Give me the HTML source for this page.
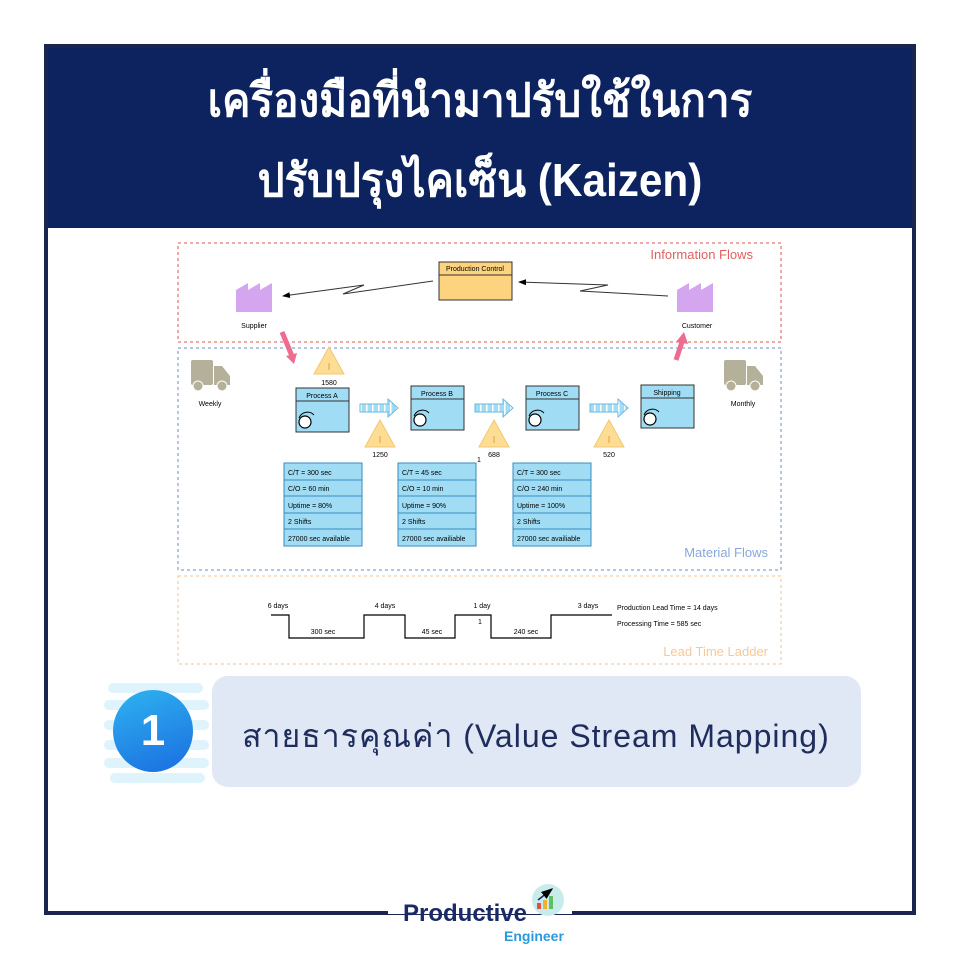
<!DOCTYPE html>
<html><head><meta charset="utf-8"><style>
body{margin:0;width:960px;height:960px;background:#fff;position:relative;overflow:hidden;font-family:"Liberation Sans",sans-serif}
.frame{position:absolute;left:44px;top:44px;width:864px;height:863px;border:4px solid #1a2550}
.hdr{position:absolute;left:48px;top:48px;width:864px;height:180px;background:#0d2360;color:#fff;text-align:center;font-weight:bold;font-size:46px;line-height:80px;padding-top:12px;box-sizing:border-box}
.hdr div{transform:scaleX(0.92)}
.pill{position:absolute;left:212px;top:676px;width:649px;height:111px;background:#dfe8f4;border-radius:16px}
.pill span{position:absolute;left:30px;top:35px;font-size:32px;letter-spacing:1px;color:#1f2d5c;white-space:nowrap}
.num{position:absolute;left:113px;top:690px;width:80px;height:82px;border-radius:50%;background:linear-gradient(160deg,#2fb3f0,#1a6de0);color:#fff;font-weight:bold;font-size:44px;text-align:center;line-height:82px}
.str{position:absolute;height:10px;border-radius:5px;background:#dff3fc}
</style></head><body>
<div class="frame"></div>
<div class="hdr"><div>เครื่องมือที่นำมาปรับใช้ในการ<br>ปรับปรุงไคเซ็น (Kaizen)</div></div>
<svg width="960" height="960" style="position:absolute;left:0;top:0" font-family="Liberation Sans, sans-serif">
<defs><marker id="ah" markerWidth="8" markerHeight="8" refX="7" refY="4" orient="auto"><path d="M0,1 L8,4 L0,7z" fill="#000"/></marker>
<pattern id="stp" width="6" height="10" patternUnits="userSpaceOnUse"><rect width="6" height="10" fill="#a0dcf4"/><rect width="1.5" height="10" fill="#fff"/></pattern></defs>
<rect x="178" y="243" width="603" height="99" fill="none" stroke="#e05050" stroke-dasharray="3,3"/>
<text x="753" y="259" text-anchor="end" font-size="13" fill="#e06060">Information Flows</text>
<rect x="178" y="348" width="603" height="222" fill="none" stroke="#6a8ed0" stroke-dasharray="3,3"/>
<text x="768" y="557" text-anchor="end" font-size="13" fill="#8aa8dc">Material Flows</text>
<rect x="178" y="576" width="603" height="88" fill="none" stroke="#f5c090" stroke-dasharray="3,3"/>
<text x="768" y="656" text-anchor="end" font-size="13" fill="#f8c898">Lead Time Ladder</text>
<rect x="439" y="262" width="73" height="38" fill="#fdd37f" stroke="#333"/><line x1="439" y1="275" x2="512" y2="275" stroke="#333"/>
<text x="475" y="271" text-anchor="middle" font-size="7">Production Control</text>
<path d="M236,312V290l12,-7v7l12,-7v7l12,-7v29z" fill="#d5a6f0"/>
<path d="M677,312V290l12,-7v7l12,-7v7l12,-7v29z" fill="#d5a6f0"/>
<text x="254" y="328" text-anchor="middle" font-size="7">Supplier</text>
<text x="697" y="328" text-anchor="middle" font-size="7">Customer</text>
<polyline points="433,281 343,294 364,285 283,296" fill="none" stroke="#333" marker-end="url(#ah)"/>
<polyline points="668,296 580,291 608,285 519,282" fill="none" stroke="#333" marker-end="url(#ah)"/>
<line x1="282" y1="332" x2="292" y2="356" stroke="#ef6b90" stroke-width="5"/><path d="M286,356 L297,353 L294,364z" fill="#ef6b90"/>
<line x1="676" y1="360" x2="682" y2="342" stroke="#ef6b90" stroke-width="5"/><path d="M676,342 L688,344 L684,332z" fill="#ef6b90"/>
<g fill="#b5b09a"><rect x="191" y="360" width="22" height="25" rx="2"/><path d="M214,366h8l8,10v9h-16z"/><circle cx="198" cy="386" r="5" stroke="#fff"/><circle cx="222" cy="386" r="5" stroke="#fff"/></g>
<g fill="#b5b09a"><rect x="724" y="360" width="22" height="25" rx="2"/><path d="M747,366h8l8,10v9h-16z"/><circle cx="731" cy="386" r="5" stroke="#fff"/><circle cx="755" cy="386" r="5" stroke="#fff"/></g>
<text x="210" y="406" text-anchor="middle" font-size="7">Weekly</text>
<text x="743" y="406" text-anchor="middle" font-size="7">Monthly</text>
<g stroke="#333" fill="#a0dcf4">
<rect x="296" y="388" width="53" height="44"/><line x1="296" y1="401" x2="349" y2="401"/>
<rect x="411" y="386" width="53" height="44"/><line x1="411" y1="399" x2="464" y2="399"/>
<rect x="526" y="386" width="53" height="44"/><line x1="526" y1="399" x2="579" y2="399"/>
<rect x="641" y="385" width="53" height="43"/><line x1="641" y1="398" x2="694" y2="398"/>
</g>
<g fill="#fff" stroke="#000" stroke-width="1.2">
<circle cx="305" cy="422" r="6"/><circle cx="420" cy="420" r="6"/><circle cx="535" cy="420" r="6"/><circle cx="650" cy="419" r="6"/></g>
<g fill="none" stroke="#000"><path d="M299,418 a9,9 0 0 1 15,-3"/><path d="M414,416 a9,9 0 0 1 15,-3"/><path d="M529,416 a9,9 0 0 1 15,-3"/><path d="M644,415 a9,9 0 0 1 15,-3"/></g>
<g font-size="7" text-anchor="middle"><text x="322" y="398">Process A</text><text x="437" y="396">Process B</text><text x="552" y="396">Process C</text><text x="667" y="395">Shipping</text></g>
<g fill="url(#stp)" stroke="#6ab8e0">
<path d="M360,404h28v-5l10,9-10,9v-5h-28z"/><path d="M475,404h28v-5l10,9-10,9v-5h-28z"/><path d="M590,404h28v-5l10,9-10,9v-5h-28z"/></g>
<g fill="#fddc94" stroke="#f0c870">
<path d="M329,347 l15,27h-30z"/><path d="M380,420 l15,27h-30z"/><path d="M494,420 l15,27h-30z"/><path d="M609,420 l15,27h-30z"/></g>
<g font-size="10" text-anchor="middle" fill="#d8a040"><text x="329" y="370">I</text><text x="380" y="443">I</text><text x="494" y="443">I</text><text x="609" y="443">I</text></g>
<g font-size="7" text-anchor="middle"><text x="329" y="385">1580</text><text x="380" y="457">1250</text><text x="494" y="457">688</text><text x="609" y="457">520</text><text x="479" y="462">1</text></g>
<g stroke="#3a8cc0" fill="#a0dcf4">
<rect x="284" y="463" width="78" height="83"/><rect x="398" y="463" width="78" height="83"/><rect x="513" y="463" width="78" height="83"/>
<path d="M284,480h78M284,496h78M284,513h78M284,529h78M398,480h78M398,496h78M398,513h78M398,529h78M513,480h78M513,496h78M513,513h78M513,529h78"/></g>
<g font-size="7">
<text x="288" y="475">C/T = 300 sec</text><text x="288" y="491">C/O = 60 min</text><text x="288" y="508">Uptime = 80%</text><text x="288" y="524">2 Shifts</text><text x="288" y="541">27000 sec available</text>
<text x="402" y="475">C/T = 45 sec</text><text x="402" y="491">C/O = 10 min</text><text x="402" y="508">Uptime = 90%</text><text x="402" y="524">2 Shifts</text><text x="402" y="541">27000 sec availiable</text>
<text x="517" y="475">C/T = 300 sec</text><text x="517" y="491">C/O = 240 min</text><text x="517" y="508">Uptime = 100%</text><text x="517" y="524">2 Shifts</text><text x="517" y="541">27000 sec availiable</text>
</g>
<polyline points="271,615 289,615 289,638 364,638 364,615 405,615 405,638 455,638 455,615 491,615 491,638 551,638 551,615 612,615" fill="none" stroke="#000" stroke-width="1.2"/>
<g font-size="7" text-anchor="middle"><text x="278" y="608">6 days</text><text x="385" y="608">4 days</text><text x="482" y="608">1 day</text><text x="588" y="608">3 days</text><text x="323" y="634">300 sec</text><text x="432" y="634">45 sec</text><text x="526" y="634">240 sec</text><text x="480" y="624">1</text></g>
<g font-size="7"><text x="617" y="610">Production Lead Time = 14 days</text><text x="617" y="626">Processing Time = 585 sec</text></g>
<rect x="388" y="900" width="184" height="14" fill="#fff"/>
<circle cx="548" cy="900" r="16" fill="#c8ecec"/>
<rect x="537" y="903" width="4" height="6" fill="#e05040"/><rect x="543" y="900" width="4" height="9" fill="#f0b030"/><rect x="549" y="896" width="4" height="13" fill="#60c060"/>
<path d="M538,900 L552,889" stroke="#1a2550" stroke-width="1.5" marker-end="url(#ah)"/>
<text x="403" y="921" font-size="24" font-weight="bold" fill="#1a2a66">Productive</text>
<text x="504" y="941" font-size="14" font-weight="bold" fill="#2a9ae0">Engineer</text>
</svg>
<div class="str" style="left:108px;top:683px;width:95px"></div>
<div class="str" style="left:104px;top:700px;width:105px"></div>
<div class="str" style="left:104px;top:720px;width:105px"></div>
<div class="str" style="left:104px;top:740px;width:105px"></div>
<div class="str" style="left:104px;top:758px;width:105px"></div>
<div class="str" style="left:110px;top:773px;width:95px"></div>
<div class="num">1</div>
<div class="pill"><span>สายธารคุณค่า (Value Stream Mapping)</span></div>
</body></html>
